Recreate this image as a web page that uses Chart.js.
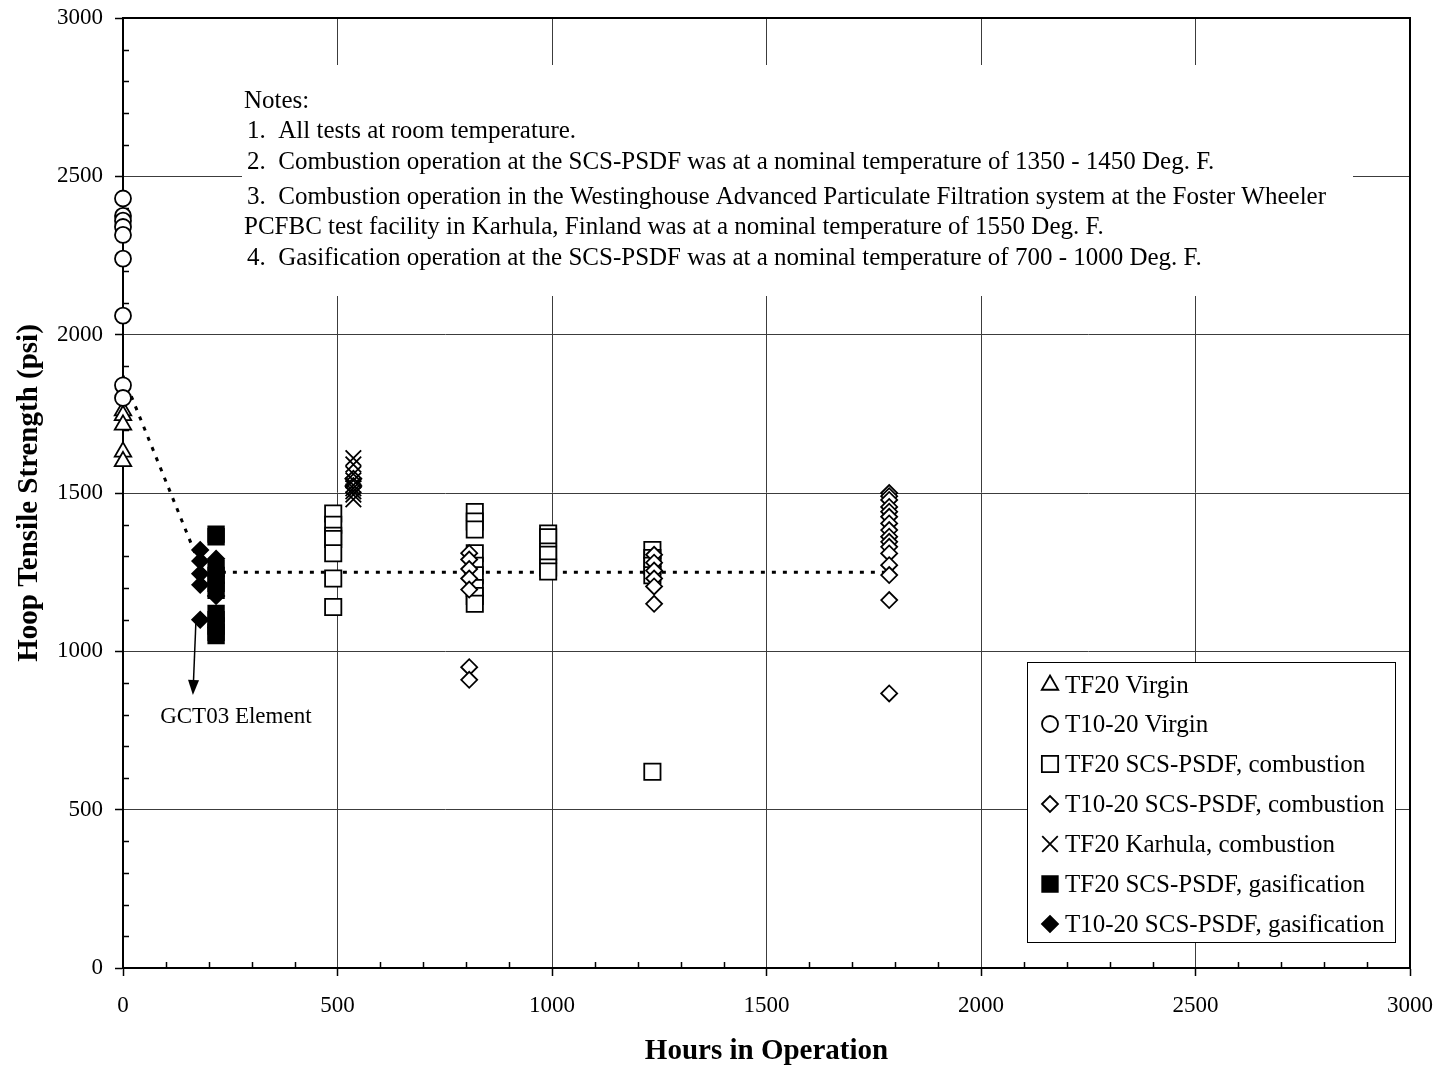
<!DOCTYPE html>
<html>
<head>
<meta charset="utf-8">
<title>Hoop Tensile Strength vs Hours in Operation</title>
<script src="https://cdn.jsdelivr.net/npm/chart.js@4.4.1/dist/chart.umd.min.js"></script>
<style>
  html, body { margin: 0; padding: 0; background: #ffffff; }
  #wrap { width: 1442px; height: 1070px; }
</style>
</head>
<body>
<div id="wrap"><canvas id="c" width="1442" height="1070"></canvas></div>
<script>
const SERIF = '"Liberation Serif", "Times New Roman", Times, serif';

// ---- data: hoop tensile strength (psi) grouped by hours in operation ----
const tf20VirginHours = [0];
const tf20Virgin = [[1760, 1745, 1715, 1630, 1600]];

const t1020VirginHours = [0];
const t1020Virgin = [[2430, 2375, 2360, 2340, 2315, 2240, 2060, 1840, 1800]];

const tf20CombHours = [490, 820, 991, 1234];
const tf20Comb = [
  [1435, 1400, 1365, 1355, 1310, 1230, 1140],
  [1440, 1410, 1385, 1310, 1270, 1240, 1200, 1175, 1150],
  [1372, 1360, 1315, 1305, 1265, 1252],
  [1320, 1295, 1270, 1240, 620]
];

const t1020CombHours = [537, 807, 1238, 1786];
const t1020Comb = [
  [1545, 1522],
  [1310, 1290, 1260, 1230, 1195, 950, 910],
  [1305, 1280, 1255, 1230, 1205, 1150],
  [1500, 1490, 1478, 1456, 1441, 1425, 1404, 1383, 1362, 1346, 1330, 1309, 1272, 1241, 1162, 867]
];

const karhulaHours = [537];
const karhula = [[1610, 1590, 1560, 1540, 1525, 1515, 1505, 1495, 1480]];

const tf20GasHours = [217];
const tf20Gas = [[1370, 1362, 1262, 1240, 1215, 1193, 1120, 1100, 1080, 1060, 1050]];

const t1020GasHours = [180, 217];
const t1020Gas = [[1320, 1285, 1245, 1210, 1100], [1292, 1175]];

// dotted guide: virgin average falling to the long-term level
const trendHours = [0, 186, 1786];
const trendPsi = [1870, 1250, 1250];

// ---- axes and labels ----
const axisMin = 0;
const axisMax = 3000;
const majorStep = 500;
const minorStep = 100;

const seriesNames = [
  'TF20 Virgin',
  'T10-20 Virgin',
  'TF20 SCS-PSDF, combustion',
  'T10-20 SCS-PSDF, combustion',
  'TF20 Karhula, combustion',
  'TF20 SCS-PSDF, gasification',
  'T10-20 SCS-PSDF, gasification'
];

const notesLines = [
  'Notes:',
  '1.  All tests at room temperature.',
  '2.  Combustion operation at the SCS-PSDF was at a nominal temperature of 1350 - 1450 Deg. F.',
  '3.  Combustion operation in the Westinghouse Advanced Particulate Filtration system at the Foster Wheeler',
  'PCFBC test facility in Karhula, Finland was at a nominal temperature of 1550 Deg. F.',
  '4.  Gasification operation at the SCS-PSDF was at a nominal temperature of 700 - 1000 Deg. F.'
];

const calloutText = 'GCT03 Element';
const calloutArrowFrom = [170, 1095];
const calloutArrowTo = [163, 862];
const calloutLabelAt = [263, 792];

function toPoints(hoursList, valueLists) {
  const out = [];
  hoursList.forEach((h, i) => valueLists[i].forEach(v => out.push({ x: h, y: v })));
  return out;
}

const markerStyles = [
  { pointStyle: 'triangle', radius: 9.5,  fill: '#ffffff' },
  { pointStyle: 'circle',   radius: 8,    fill: '#ffffff' },
  { pointStyle: 'rect',     radius: 11.5, fill: '#ffffff' },
  { pointStyle: 'rectRot',  radius: 8,    fill: '#ffffff' },
  { pointStyle: 'crossRot', radius: 11,   fill: '#ffffff' },
  { pointStyle: 'rect',     radius: 11,   fill: '#000000' },
  { pointStyle: 'rectRot',  radius: 8,    fill: '#000000' }
];

const seriesPoints = [
  toPoints(tf20VirginHours, tf20Virgin),
  toPoints(t1020VirginHours, t1020Virgin),
  toPoints(tf20CombHours, tf20Comb),
  toPoints(t1020CombHours, t1020Comb),
  toPoints(karhulaHours, karhula),
  toPoints(tf20GasHours, tf20Gas),
  toPoints(t1020GasHours, t1020Gas)
];

const datasets = seriesPoints.map((pts, i) => ({
  label: seriesNames[i],
  data: pts,
  pointStyle: markerStyles[i].pointStyle,
  pointRadius: markerStyles[i].radius,
  pointHoverRadius: markerStyles[i].radius,
  pointBorderWidth: 1.8,
  pointBorderColor: '#000000',
  pointBackgroundColor: markerStyles[i].fill,
  showLine: false,
  clip: false,
  order: 10 - i
}));

datasets.push({
  label: 'trend',
  type: 'line',
  data: trendHours.map((h, i) => ({ x: h, y: trendPsi[i] })),
  borderColor: '#000000',
  borderWidth: 3,
  borderDash: [4, 7],
  pointRadius: 0,
  fill: false,
  tension: 0,
  clip: false,
  order: 100
});

// ---- drawing helpers ----
const panelPlugin = {
  id: 'panel',
  beforeDatasetsDraw(chart) {
    const { ctx, chartArea: a, scales: { x, y } } = chart;
    ctx.save();

    // notes panel sits above the grid
    ctx.fillStyle = '#ffffff';
    ctx.fillRect(a.left + 119, 65, 1111, 231);
    ctx.fillStyle = '#000000';
    ctx.font = '25px ' + SERIF;
    ctx.textAlign = 'left';
    ctx.textBaseline = 'alphabetic';
    const baselines = [108, 138, 169, 204, 234, 265];
    notesLines.forEach((t, i) => {
      const dx = i === 0 || i === 4 ? 121 : 124;
      ctx.fillText(t, a.left + dx, baselines[i]);
    });

    // minor ticks pointing into the plot
    ctx.strokeStyle = '#000000';
    ctx.lineWidth = 1.5;
    ctx.beginPath();
    for (let v = axisMin + minorStep; v < axisMax; v += minorStep) {
      if (v % majorStep === 0) continue;
      const py = Math.round(y.getPixelForValue(v)) + 0.5;
      ctx.moveTo(a.left, py);
      ctx.lineTo(a.left + 6, py);
      const px = Math.round(x.getPixelForValue(v)) + 0.5;
      ctx.moveTo(px, a.bottom);
      ctx.lineTo(px, a.bottom - 6);
    }
    ctx.stroke();

    // top and right frame edges
    ctx.lineWidth = 2;
    ctx.beginPath();
    ctx.moveTo(a.left, a.top);
    ctx.lineTo(a.right, a.top);
    ctx.lineTo(a.right, a.bottom);
    ctx.stroke();
    ctx.restore();
  },
  afterDatasetsDraw(chart) {
    const { ctx, scales: { x, y } } = chart;
    ctx.save();
    // callout arrow for the GCT03 element
    const x0 = x.getPixelForValue(calloutArrowFrom[0]);
    const y0 = y.getPixelForValue(calloutArrowFrom[1]);
    const x1 = x.getPixelForValue(calloutArrowTo[0]);
    const y1 = y.getPixelForValue(calloutArrowTo[1]);
    const ang = Math.atan2(y1 - y0, x1 - x0);
    const headLen = 15, headHalf = 5.5;
    const bx = x1 - Math.cos(ang) * headLen;
    const by = y1 - Math.sin(ang) * headLen;
    ctx.strokeStyle = '#000000';
    ctx.lineWidth = 1.5;
    ctx.beginPath();
    ctx.moveTo(x0, y0);
    ctx.lineTo(bx, by);
    ctx.stroke();
    ctx.fillStyle = '#000000';
    ctx.beginPath();
    ctx.moveTo(x1, y1);
    ctx.lineTo(bx + Math.sin(ang) * headHalf, by - Math.cos(ang) * headHalf);
    ctx.lineTo(bx - Math.sin(ang) * headHalf, by + Math.cos(ang) * headHalf);
    ctx.closePath();
    ctx.fill();

    ctx.font = '23px ' + SERIF;
    ctx.textAlign = 'center';
    ctx.textBaseline = 'middle';
    ctx.fillText(calloutText, x.getPixelForValue(calloutLabelAt[0]), y.getPixelForValue(calloutLabelAt[1]));
    ctx.restore();
  },
  afterDraw(chart) {
    const { ctx } = chart;
    // legend box in the lower right of the plot
    const box = { left: 1027.5, top: 662.5, width: 368, height: 280 };
    ctx.save();
    ctx.fillStyle = '#ffffff';
    ctx.fillRect(box.left, box.top, box.width, box.height);
    ctx.strokeStyle = '#000000';
    ctx.lineWidth = 1;
    ctx.strokeRect(box.left, box.top, box.width, box.height);

    ctx.font = '25px ' + SERIF;
    ctx.textAlign = 'left';
    ctx.textBaseline = 'middle';
    const rowY = [685, 724, 764, 804, 844, 884, 924];
    seriesNames.forEach((name, i) => {
      const st = markerStyles[i];
      ctx.fillStyle = st.fill;
      ctx.strokeStyle = '#000000';
      ctx.lineWidth = 1.8;
      Chart.helpers.drawPoint(ctx, {
        pointStyle: st.pointStyle,
        radius: st.radius,
        rotation: 0,
        borderWidth: 1.8
      }, 1050, rowY[i]);
      ctx.fillStyle = '#000000';
      ctx.fillText(name, 1065, rowY[i] + 1);
    });
    ctx.restore();
  }
};

const gridCommon = {
  color: '#3c3c3c',
  lineWidth: 1,
  drawTicks: true,
  tickLength: 8,
  tickColor: '#000000',
  tickWidth: 1.5
};

const plainNumber = v => String(v);

// fixed axis boxes so the plot area keeps its place regardless of label overhang
function fixBox(size, prop) {
  return scale => {
    scale[prop] = size;
    scale.paddingTop = 0;
    scale.paddingBottom = 0;
    scale.paddingLeft = 0;
    scale.paddingRight = 0;
  };
}

new Chart(document.getElementById('c'), {
  type: 'scatter',
  data: { datasets },
  options: {
    responsive: false,
    animation: false,
    events: [],
    layout: { padding: { top: 18, right: 32, left: 0, bottom: 0 } },
    plugins: {
      legend: { display: false },
      tooltip: { enabled: false }
    },
    scales: {
      x: {
        type: 'linear',
        min: axisMin,
        max: axisMax,
        ticks: {
          stepSize: majorStep,
          color: '#000000',
          font: { family: SERIF, size: 23 },
          padding: 16,
          maxRotation: 0,
          callback: plainNumber
        },
        grid: gridCommon,
        border: { display: true, color: '#000000', width: 2 },
        title: {
          display: true,
          text: 'Hours in Operation',
          color: '#000000',
          font: { family: SERIF, size: 29, weight: 'bold' },
          padding: { top: 4, bottom: 1 }
        },
        afterFit: fixBox(102, 'height')
      },
      y: {
        type: 'linear',
        min: axisMin,
        max: axisMax,
        ticks: {
          stepSize: majorStep,
          color: '#000000',
          font: { family: SERIF, size: 23 },
          padding: 12,
          callback: plainNumber
        },
        grid: gridCommon,
        border: { display: true, color: '#000000', width: 2 },
        title: {
          display: true,
          text: 'Hoop Tensile Strength (psi)',
          color: '#000000',
          font: { family: SERIF, size: 29, weight: 'bold' },
          padding: { top: 12, bottom: 0 }
        },
        afterFit: fixBox(123, 'width')
      }
    }
  },
  plugins: [panelPlugin]
});
</script>
</body>
</html>
